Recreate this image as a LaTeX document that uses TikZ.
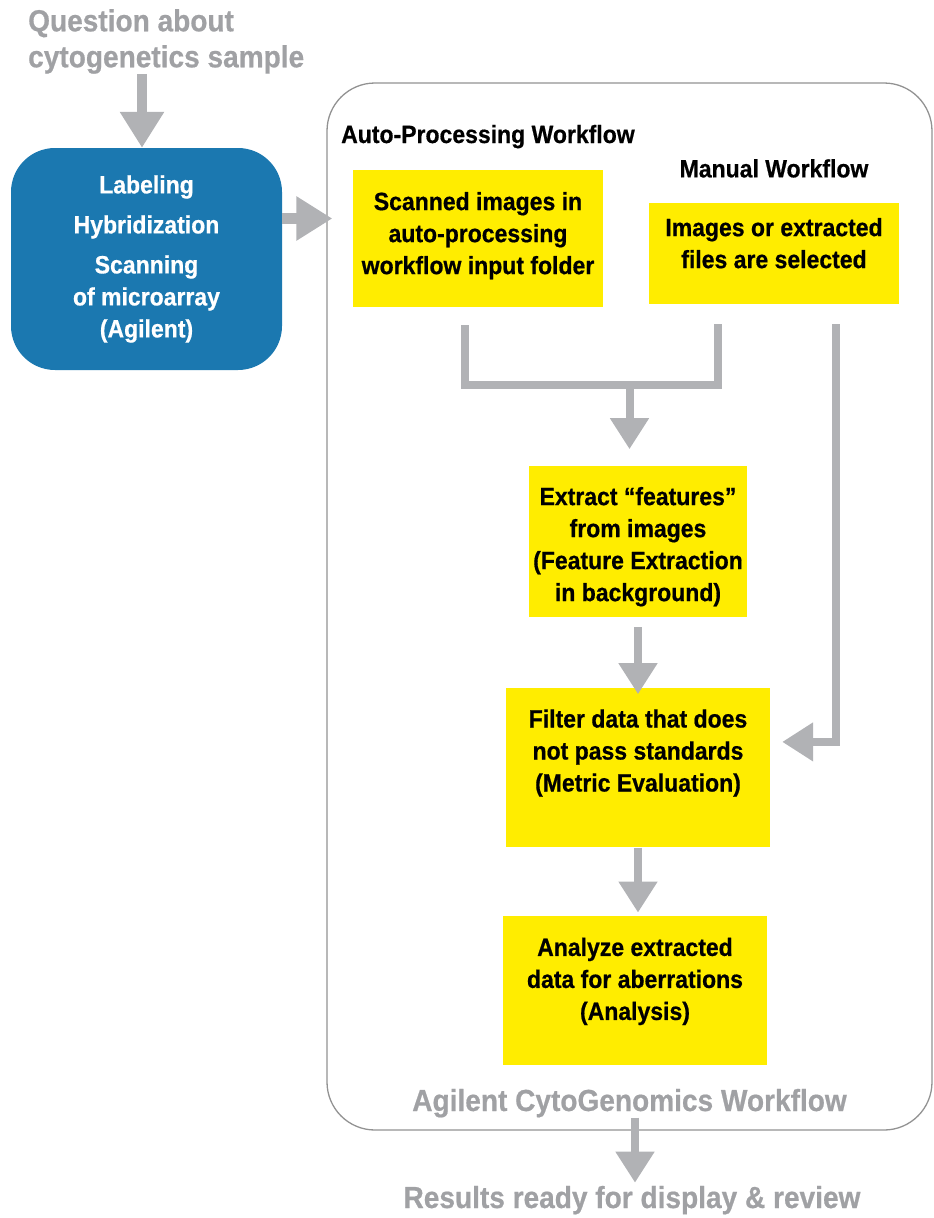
\documentclass[tikz,border=0pt]{standalone}
\usepackage{fontspec}
\setmainfont{Liberation Sans}[FakeStretch=0.92, BoldFeatures={FakeBold=0.6}]
\usetikzlibrary{positioning, arrows.meta}

\definecolor{agblue}{HTML}{1B78B0}
\definecolor{boxyellow}{HTML}{FFED00}
\definecolor{arrowgray}{HTML}{B1B2B5}
\definecolor{textgray}{HTML}{A0A1A4}
\definecolor{framegray}{HTML}{929292}

\begin{document}
\begin{tikzpicture}[
    x=1pt, y=1pt,
    boxtext/.style={font=\fontsize{25}{32}\selectfont\bfseries, align=center, inner sep=0pt},
    graytext/.style={font=\fontsize{30.5}{36}\selectfont\bfseries, text=textgray, inner sep=0pt},
    stepbox/.style={rectangle, fill=boxyellow, inner sep=0pt},
    labbox/.style={rectangle, rounded corners=44pt, fill=agblue, text=white, boxtext},
    workflow/.style={rectangle, rounded corners=48pt, draw=framegray, line width=1.3pt},
    bigarrow/.style={draw=arrowgray, line width=10.5pt, -{Triangle[width=42pt, length=36pt]}},
    flowarrow/.style={draw=arrowgray, line width=8pt, -{Triangle[width=37pt, length=31pt]}},
    flowline/.style={draw=arrowgray, line width=8pt}
]
\useasboundingbox (0,0) rectangle (934,-1218);

% Sample and wet lab
\node[graytext, align=left, anchor=north west] (question) at (28,-9) {Question about\\cytogenetics sample};
\node[labbox, minimum width=271pt, minimum height=222pt] (wetlab) at (146.5,-259)
    {Labeling\\[8pt]Hybridization\\[8pt]Scanning\\of microarray\\(Agilent)};

% Software frame
\node[workflow, minimum width=605pt, minimum height=1047pt] (workflow) at (629.5,-606.5) {};
\node[graytext, above=13pt of workflow.south] (workflow_title) {Agilent CytoGenomics Workflow};

% Auto-processing and manual entry
\node[boxtext, anchor=base west] (auto_title) at (341,-143) {Auto-Processing Workflow};
\node[stepbox, minimum width=250pt, minimum height=137pt,
      label={[boxtext, anchor=north, yshift=-22pt]north:Scanned images in\\auto-processing\\workflow input folder}] (scanned) at (478,-238.5) {};
\node[stepbox, minimum width=250pt, minimum height=101pt,
      label={[boxtext, anchor=north, yshift=-15pt]north:Images or extracted\\files are selected}] (manual) at (774,-253.5) {};
\node[boxtext, above=25pt of manual] (manual_title) {Manual Workflow};

% Processing steps
\node[stepbox, minimum width=218pt, minimum height=151pt,
      label={[boxtext, anchor=north, yshift=-21pt]north:Extract “features”\\from images\\(Feature Extraction\\in background)}] (extract) at (638,-541.5) {};
\node[stepbox, below=71pt of extract, minimum width=264pt, minimum height=159pt,
      label={[boxtext, anchor=north, yshift=-21pt]north:Filter data that does\\not pass standards\\(Metric Evaluation)}] (filter) {};
\node[stepbox, below=68pt of filter, xshift=-3pt, minimum width=264pt, minimum height=149pt,
      label={[boxtext, anchor=north, yshift=-22pt]north:Analyze extracted\\data for aberrations\\(Analysis)}] (analyze) {};

% Output
\node[graytext, anchor=base] (results) at (632,-1208) {Results ready for display \& review};

% helper points
\coordinate (frame_in) at ([xshift=6pt, yshift=40.5pt]workflow.west |- wetlab.east);
\coordinate[below=18pt of scanned.south, xshift=-13pt] (scanned_out);
\coordinate[below=20pt of manual.south, xshift=-56pt] (manual_out);
\coordinate[below=61pt of manual_out] (merge_right);
\coordinate[xshift=-8.5pt] (merge_mid) at (merge_right -| extract.north);
\coordinate[below=64pt of merge_mid] (merge_tip);
\coordinate[below=20pt of manual.south, xshift=61.5pt] (manual_side);
\coordinate[xshift=12pt, yshift=26pt] (filter_in) at (filter.east);

% input edges
\draw[bigarrow] ([xshift=-4.5pt]wetlab.north |- question.south) -- ([xshift=-4.5pt]wetlab.north);
\draw[bigarrow] ([yshift=40.5pt]wetlab.east) -- (frame_in);

% merge edges
\draw[flowline] (scanned_out) |- (merge_right) -- (manual_out);
\draw[flowarrow] (merge_mid) -- (merge_tip);
\draw[flowarrow] (manual_side) |- (filter_in);

% step edges
\draw[flowarrow] ([yshift=-10pt]extract.south) -- ([yshift=-6pt]filter.north);
\draw[flowarrow] (filter.south) -- ([yshift=3pt]filter.south |- analyze.north);
\draw[flowarrow] (analyze |- workflow_title.south) -- ([yshift=3pt]analyze |- results.north);

\end{tikzpicture}
\end{document}
